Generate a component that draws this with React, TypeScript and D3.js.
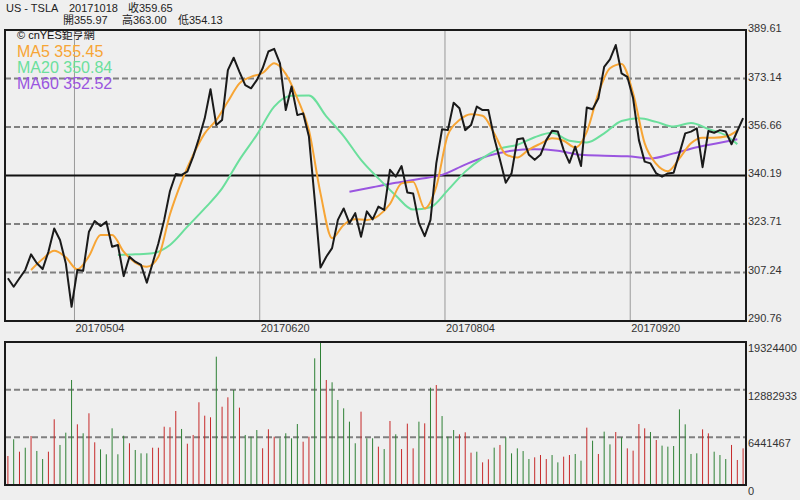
import React from "react";
import * as d3 from "d3";

// ---------- data ----------
const closes: number[] = [
  305.3, 302.4, 305.3, 308.1, 313.4, 310.4, 308.4, 314.3, 322.2, 318.3,
  310.4, 295.6, 308.1, 307.8, 321.1, 324.7, 323.0, 324.5, 316.0, 316.6,
  306.0, 312.6, 310.9, 309.8, 303.8, 310.4, 317.2, 325.1, 334.9, 340.7,
  340.4, 341.5, 346.6, 352.8, 359.6, 369.5, 357.3, 359.0, 376.0, 380.2,
  375.4, 370.9, 369.8, 372.6, 376.6, 382.3, 383.2, 378.3, 362.4, 370.4,
  360.7, 361.3, 353.4, 332.0, 308.9, 312.6, 315.5, 325.1, 329.0, 324.0,
  327.4, 319.4, 328.0, 325.3, 329.6, 328.5, 342.1, 339.8, 343.4, 334.4,
  334.1, 324.0, 319.6, 325.1, 344.3, 355.9, 355.6, 364.9, 363.0, 355.6,
  357.3, 363.6, 362.4, 362.4, 353.0, 345.5, 337.7, 340.9, 352.5, 352.8,
  347.2, 345.5, 347.2, 352.2, 355.4, 355.1, 348.9, 344.5, 350.0, 343.4,
  363.3, 362.7, 366.4, 377.1, 379.6, 384.5, 374.9, 373.7, 366.4, 352.2,
  344.9, 344.3, 340.9, 339.8, 340.9, 341.1, 347.7, 354.5, 355.1, 356.2,
  343.0, 355.3, 354.7, 355.6, 355.1, 350.8, 355.3, 359.65,
];

// [day index, value]
const ma5: [number, number][] = [
  [4, 308.1], [6, 311.8], [8, 314.6], [10, 312.4], [12, 308.3], [14, 312.8],
  [16, 320.0], [18, 320.0], [20, 314.3], [22, 310.6], [24, 309.2], [26, 312.6],
  [28, 327.0], [30, 338.1], [32, 347.2], [34, 354.5], [36, 359.0], [38, 365.3],
  [40, 371.5], [42, 373.7], [44, 375.0], [46, 378.3], [48, 374.7], [50, 366.4],
  [52, 355.6], [54, 334.1], [56, 318.9], [58, 323.4], [60, 325.3], [62, 325.1],
  [64, 326.5], [66, 330.5], [68, 337.5], [70, 338.1], [72, 329.0], [74, 336.4],
  [76, 354.0], [78, 359.0], [80, 361.0], [82, 360.5], [84, 354.5], [86, 347.4],
  [88, 346.3], [90, 349.0], [92, 351.0], [94, 352.8], [96, 352.0], [98, 349.7],
  [100, 355.0], [102, 368.1], [104, 376.6], [106, 378.1], [108, 368.1], [110, 351.1],
  [112, 344.1], [114, 341.6], [116, 346.0], [118, 351.1], [120, 353.0], [122, 353.0],
  [124, 353.4], [126, 355.45],
];

const ma20: [number, number][] = [
  [19, 313.2], [22, 313.4], [25, 313.8], [28, 316.6], [31, 322.8], [34, 329.0],
  [37, 335.8], [40, 345.5], [43, 354.0], [46, 363.6], [49, 367.3], [52, 367.4],
  [55, 360.3], [58, 353.6], [61, 345.5], [64, 339.2], [67, 333.4], [70, 328.6],
  [73, 329.4], [76, 335.2], [79, 341.5], [82, 346.1], [85, 349.3], [88, 350.6],
  [91, 353.2], [94, 354.7], [97, 352.0], [100, 351.4], [103, 354.5], [106, 358.7],
  [109, 359.6], [112, 358.4], [115, 356.8], [118, 358.0], [121, 356.0], [124, 353.8],
  [126, 350.84],
];

const ma60: [number, number][] = [
  [59, 334.7], [63, 336.2], [67, 337.7], [71, 339.0], [75, 340.4], [79, 343.9],
  [83, 346.9], [87, 348.6], [91, 349.1], [95, 348.6], [99, 347.2], [103, 346.9],
  [107, 346.7], [111, 346.0], [115, 347.7], [119, 349.8], [123, 351.3], [126, 352.52],
];

const volumes: number[] = [
  3920000, 6180000, 4500000, 5040000, 6620000, 4600000, 3510000, 4500000, 8880000, 5410000,
  7070000, 14190000, 8200000, 6990000, 9690000, 5770000, 4820000, 4150000, 7660000, 4150000,
  6660000, 5640000, 4730000, 4280000, 4280000, 5040000, 5040000, 7880000, 7800000, 10000000,
  7570000, 5580000, 6760000, 11180000, 9370000, 9150000, 17340000, 10580000, 11850000, 12840000,
  10450000, 6760000, 6530000, 7430000, 4960000, 7530000, 6530000, 6310000, 6990000, 6310000,
  8240000, 5850000, 6530000, 17120000, 19324400, 14190000, 13880000, 11490000, 10360000, 8560000,
  5640000, 9910000, 6310000, 6310000, 5180000, 4860000, 8650000, 6850000, 4860000, 8290000,
  4950000, 8560000, 8330000, 13150000, 13510000, 9320000, 6530000, 7430000, 6850000, 7120000,
  4370000, 4500000, 3060000, 3470000, 5050000, 5410000, 6440000, 4280000, 4950000, 4590000,
  3510000, 3740000, 4050000, 3510000, 4050000, 3060000, 3830000, 4050000, 4190000, 3290000,
  7750000, 5990000, 4190000, 7210000, 5490000, 7160000, 6440000, 4950000, 4640000, 8240000,
  7660000, 7160000, 6080000, 5320000, 5180000, 5270000, 10220000, 8200000, 4190000, 4280000,
  7520000, 6980000, 4500000, 4050000, 3510000, 5410000, 3380000, 4950000,
];

// r = red (up) bar, g = green (down) bar
const volColors: string[] = (
  "rgrgrggrrggg" + "rgrrgggggrgg" + "grrrrrgrrrrr" + "grrgrgggrrrg" + "gggrrggrgggg" +
  "grggrgrgrrrg" + "rgrgggrrrgrr" + "grgggggrrrgg" + "rrggrgrggrgr" + "rrrgrggggggg" +
  "rrgggrrrggr" + "r"
).split("");

const priceTicks: number[] = [389.61, 373.14, 356.66, 340.19, 323.71, 307.24, 290.76];
const priceTickLabels: string[] = ["389.61", "373.14", "356.66", "340.19", "323.71", "307.24", "290.76"];
const volTicks: number[] = [19324400, 12882933, 6441467, 0];
const volTickLabels: string[] = ["19324400", "12882933", "6441467", "0"];
const dateTickIdx: number[] = [12, 44, 76, 108];
const dateTickLabels: string[] = ["20170504", "20170620", "20170804", "20170920"];

const headerLine1: string[] = ["US - TSLA", "20171018", "收359.65"];
const headerLine2: string[] = ["開355.97", "高363.00", "低354.13"];
const legendLabels: string[] = ["MA5 355.45", "MA20 350.84", "MA60 352.52"];

// ---------- layout ----------
const L = 5, R = 746;
const PT = 30, PB = 321;
const VT = 342, VB = 485;
const FONT = "'Liberation Sans', Arial, 'Noto Sans CJK TC', sans-serif";
const C_MA5 = "#f7a535";
const C_MA20 = "#6bdf9c";
const C_MA60 = "#9a55e0";
const RED = "#c62a2a";
const GREEN = "#2e8035";

export default function App() {
  const N = closes.length;
  const xb = d3.scaleBand<number>().domain(d3.range(N)).range([L, R]).padding(0);
  const cx = (i: number) => (xb(i) as number) + xb.bandwidth() / 2;
  const y = d3.scaleLinear().domain([290.76, 389.61]).range([PB, PT]);
  const yLab = d3.scaleLinear().domain([290.76, 389.61]).range([318, 28.5]);
  const vy = d3.scaleLinear().domain([0, 19324400]).range([VB, VT]);

  const closeLine = d3.line<number>().x((_, i) => cx(i)).y((d) => y(d))(closes) || "";
  const maLine = d3
    .line<[number, number]>()
    .x((d) => cx(d[0]))
    .y((d) => y(d[1]))
    .curve(d3.curveMonotoneX);

  const dashed = { stroke: "#808080", strokeWidth: 2, strokeDasharray: "6,3" };

  return (
    <svg
      width={800}
      height={500}
      style={{ position: "absolute", left: 0, top: 0, fontFamily: FONT }}
    >
      <rect x={0} y={0} width={800} height={500} fill="#efefef" />

      {/* header */}
      <g fontSize={11} fill="#222">
        <text x={6} y={12}>{headerLine1[0]}</text>
        <text x={69} y={12}>{headerLine1[1]}</text>
        <text x={128} y={12}>{headerLine1[2]}</text>
        <text x={63} y={24}>{headerLine2[0]}</text>
        <text x={122} y={24}>{headerLine2[1]}</text>
        <text x={178} y={24}>{headerLine2[2]}</text>
      </g>

      {/* vertical date grid */}
      {dateTickIdx.map((d, k) => (
        <g key={"vg" + k}>
          <line x1={xb(d) as number} x2={xb(d) as number} y1={PT} y2={PB} stroke="#9a9a9a" strokeWidth={1} />
          <text x={(xb(d) as number) + 1} y={332} fontSize={11} fill="#333" textAnchor="start">
            {dateTickLabels[k]}
          </text>
        </g>
      ))}

      {/* price horizontal grid */}
      {priceTicks.slice(1, -1).map((t, k) =>
        t === 340.19 ? (
          <line key={"pg" + k} x1={L} x2={R} y1={y(t)} y2={y(t)} stroke="#111" strokeWidth={2} />
        ) : (
          <line key={"pg" + k} x1={L} x2={R} y1={y(t)} y2={y(t)} {...dashed} />
        )
      )}

      {/* MA lines */}
      <path d={maLine(ma60) || ""} fill="none" stroke={C_MA60} strokeWidth={2} />
      <path d={maLine(ma20) || ""} fill="none" stroke={C_MA20} strokeWidth={2} />
      <path d={maLine(ma5) || ""} fill="none" stroke={C_MA5} strokeWidth={2} />
      <path d={closeLine} fill="none" stroke="#1a1a1a" strokeWidth={2} strokeLinejoin="round" />

      {/* legend */}
      <text x={17} y={39} fontSize={11} fill="#111">© cnYES鉅亨網</text>
      <text x={17} y={57} fontSize={16} fill={C_MA5}>{legendLabels[0]}</text>
      <text x={17} y={73} fontSize={16} fill={C_MA20}>{legendLabels[1]}</text>
      <text x={17} y={89} fontSize={16} fill={C_MA60}>{legendLabels[2]}</text>

      {/* price frame */}
      <rect x={L} y={PT} width={R - L} height={PB - PT} fill="none" stroke="#1a1a1a" strokeWidth={2} />

      {/* price axis labels */}
      {priceTicks.map((t, k) => (
        <text key={"pl" + k} x={748} y={yLab(t)} dy="0.35em" fontSize={11} fill="#333">
          {priceTickLabels[k]}
        </text>
      ))}

      {/* volume grid */}
      {volTicks.slice(1, -1).map((t, k) => (
        <line key={"vgl" + k} x1={L} x2={R} y1={vy(t)} y2={vy(t)} {...dashed} />
      ))}

      {/* volume bars */}
      {volumes.map((v, i) => (
        <line
          key={"vb" + i}
          x1={cx(i)}
          x2={cx(i)}
          y1={VB}
          y2={vy(v)}
          stroke={volColors[i] === "r" ? RED : GREEN}
          strokeWidth={1}
        />
      ))}

      {/* volume frame */}
      <rect x={L} y={VT} width={R - L} height={VB - VT} fill="none" stroke="#1a1a1a" strokeWidth={2} />

      {volTicks.map((t, k) => (
        <text key={"vl" + k} x={748} y={vy(t) + 6} dy="0.35em" fontSize={11} fill="#333">
          {volTickLabels[k]}
        </text>
      ))}
    </svg>
  );
}
